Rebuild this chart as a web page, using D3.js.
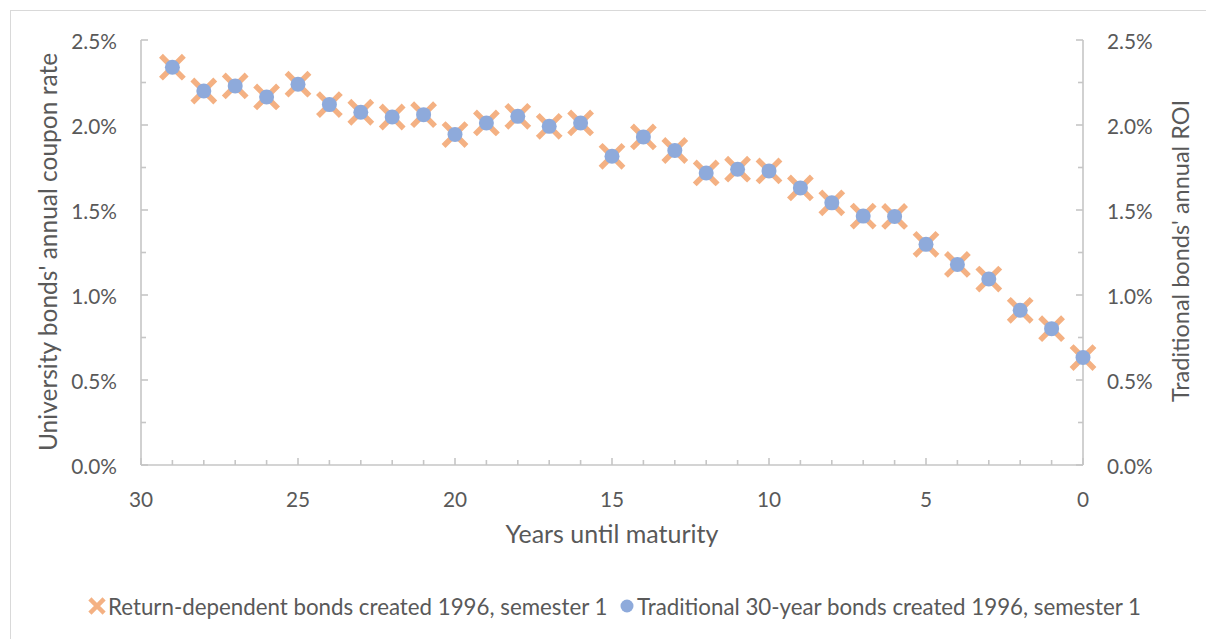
<!DOCTYPE html>
<html>
<head>
<meta charset="utf-8">
<script src="https://cdn.jsdelivr.net/npm/d3@7"></script>
<style>
  html, body { margin: 0; padding: 0; background: #ffffff; }
  svg { display: block; font-family: Lato, "Open Sans", sans-serif; }
</style>
</head>
<body>
<svg id="chart" width="1206" height="639"></svg>
<script>
// Years until maturity (x) and annual rates in percent (y)
const years = [29, 28, 27, 26, 25, 24, 23, 22, 21, 20, 19, 18, 17, 16, 15,
               14, 13, 12, 11, 10, 9, 8, 7, 6, 5, 4, 3, 2, 1, 0];
const returnDependent = [2.34, 2.20, 2.23, 2.165, 2.24, 2.12, 2.075, 2.047, 2.061, 1.944,
                         2.012, 2.051, 1.992, 2.012, 1.816, 1.93, 1.85, 1.718, 1.74, 1.73,
                         1.63, 1.542, 1.464, 1.462, 1.298, 1.18, 1.094, 0.91, 0.802, 0.632];
const traditional = [2.34, 2.20, 2.23, 2.165, 2.24, 2.12, 2.075, 2.047, 2.061, 1.944,
                     2.012, 2.051, 1.992, 2.012, 1.816, 1.93, 1.85, 1.718, 1.74, 1.73,
                     1.63, 1.542, 1.464, 1.462, 1.298, 1.18, 1.094, 0.91, 0.802, 0.632];
const xTickLabels = [30, 25, 20, 15, 10, 5, 0];
const yTickLabels = [0, 0.5, 1.0, 1.5, 2.0, 2.5];
const seriesNames = ["Return-dependent bonds created 1996, semester 1",
                     "Traditional 30-year bonds created 1996, semester 1"];
const xTitle = "Years until maturity";
const yTitleLeft = "University bonds' annual coupon rate";
const yTitleRight = "Traditional bonds' annual ROI";

const textColor = "#595959";
const axisColor = "#c6c6c6";
const crossColor = "#f4b183";
const dotColor = "#8eaadb";

const svg = d3.select("#chart");

// chart frame
svg.append("rect")
  .attr("x", 10.5).attr("y", 10.5)
  .attr("width", 1210).attr("height", 650)
  .attr("fill", "none").attr("stroke", "#d9d9d9").attr("stroke-width", 1);

const x = d3.scaleLinear().domain([30, 0]).range([141, 1083]);
const y = d3.scaleLinear().domain([0, 2.5]).range([465, 40]);
const y2 = d3.scaleLinear().domain([0, 2.5]).range([465, 40]);

const fmt = d => d.toFixed(1) + "%";

// axis lines
const axes = svg.append("g").attr("stroke", axisColor).attr("stroke-width", 1.6).attr("fill", "none");
axes.append("line").attr("x1", x(30)).attr("x2", x(0)).attr("y1", y(0)).attr("y2", y(0));
axes.append("line").attr("x1", x(30)).attr("x2", x(30)).attr("y1", y(0)).attr("y2", y(2.5));
axes.append("line").attr("x1", x(0)).attr("x2", x(0)).attr("y1", y(0)).attr("y2", y(2.5));

// x ticks (inward): every year, longer at multiples of five
const xTicks = d3.range(0, 31);
axes.selectAll(".xt").data(xTicks).join("line")
  .attr("x1", d => x(d)).attr("x2", d => x(d))
  .attr("y1", y(0)).attr("y2", d => y(0) - (d % 5 === 0 ? 7 : 5));

// y ticks every 0.25 on both sides (inward)
const yTicks = d3.range(0, 11).map(i => i * 0.25);
axes.selectAll(".ylt").data(yTicks).join("line")
  .attr("x1", x(30)).attr("x2", (d, i) => x(30) + (i % 2 === 0 ? 7 : 5))
  .attr("y1", d => y(d)).attr("y2", d => y(d));
axes.selectAll(".yrt").data(yTicks).join("line")
  .attr("x1", x(0)).attr("x2", (d, i) => x(0) - (i % 2 === 0 ? 7 : 5))
  .attr("y1", d => y2(d)).attr("y2", d => y2(d));

const tickSize = 20.8;
const legendSize = 22.3;

// tick labels
svg.append("g").selectAll("text").data(xTickLabels).join("text")
  .attr("x", d => x(d)).attr("y", 498)
  .attr("text-anchor", "middle").attr("dominant-baseline", "central")
  .attr("fill", textColor).attr("font-size", tickSize)
  .text(d => d);

svg.append("g").selectAll("text").data(yTickLabels).join("text")
  .attr("x", 117).attr("y", d => y(d))
  .attr("text-anchor", "end").attr("dominant-baseline", "central")
  .attr("fill", textColor).attr("font-size", tickSize)
  .text(fmt);

svg.append("g").selectAll("text").data(yTickLabels).join("text")
  .attr("x", 1107).attr("y", d => y2(d))
  .attr("text-anchor", "start").attr("dominant-baseline", "central")
  .attr("fill", textColor).attr("font-size", tickSize)
  .text(fmt);

// axis titles
svg.append("text")
  .attr("x", 612).attr("y", 533)
  .attr("text-anchor", "middle").attr("dominant-baseline", "central")
  .attr("fill", textColor).attr("font-size", 25)
  .text(xTitle);

svg.append("text")
  .attr("transform", `translate(47,252) rotate(-90)`)
  .attr("text-anchor", "middle").attr("dominant-baseline", "central")
  .attr("fill", textColor).attr("font-size", 24.5)
  .text(yTitleLeft);

svg.append("text")
  .attr("transform", `translate(1180,251) rotate(-90)`)
  .attr("text-anchor", "middle").attr("dominant-baseline", "central")
  .attr("fill", textColor).attr("font-size", 23.5)
  .text(yTitleRight);

// cross marker path centred on 0,0
function crossPath(h) {
  return `M${-h},${-h}L${h},${h}M${-h},${h}L${h},${-h}`;
}

// series 1: crosses
const crossData = years.map((yr, i) => ({ yr, v: returnDependent[i] }));
svg.append("g").selectAll("path").data(crossData).join("path")
  .attr("transform", d => `translate(${x(d.yr)},${y(d.v)})`)
  .attr("d", crossPath(9.5))
  .attr("stroke", crossColor).attr("stroke-width", 5.5)
  .attr("stroke-linecap", "square").attr("fill", "none");

// series 2: dots on the secondary axis
const dotData = years.map((yr, i) => ({ yr, v: traditional[i] }));
svg.append("g").selectAll("circle").data(dotData).join("circle")
  .attr("cx", d => x(d.yr)).attr("cy", d => y2(d.v))
  .attr("r", 7.5).attr("fill", dotColor);

// legend
const legY = 606;
const leg = svg.append("g");
leg.append("path")
  .attr("transform", `translate(97,${legY})`)
  .attr("d", crossPath(5.5))
  .attr("stroke", crossColor).attr("stroke-width", 4.5)
  .attr("stroke-linecap", "square").attr("fill", "none");
leg.append("text")
  .attr("x", 108).attr("y", legY)
  .attr("dominant-baseline", "central")
  .attr("fill", textColor).attr("font-size", legendSize)
  .text(seriesNames[0]);
leg.append("circle")
  .attr("cx", 627).attr("cy", legY).attr("r", 6.5).attr("fill", dotColor);
leg.append("text")
  .attr("x", 637).attr("y", legY)
  .attr("dominant-baseline", "central")
  .attr("fill", textColor).attr("font-size", legendSize)
  .text(seriesNames[1]);
</script>
</body>
</html>
